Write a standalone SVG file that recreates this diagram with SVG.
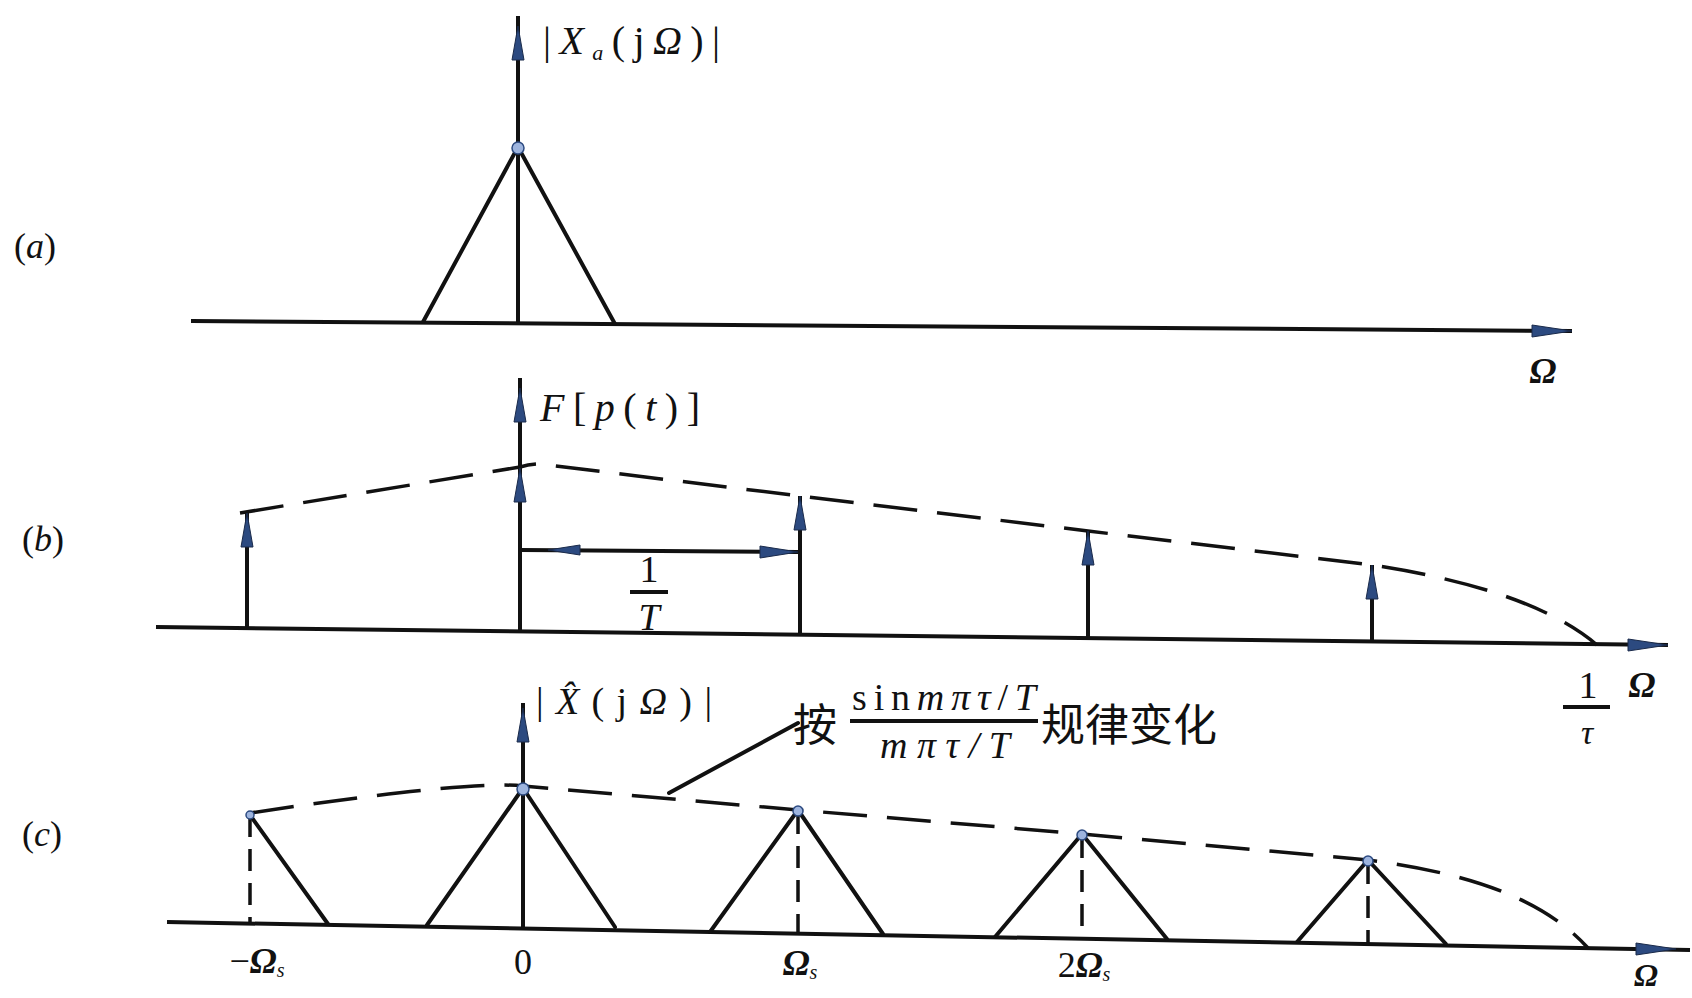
<svg xmlns="http://www.w3.org/2000/svg" width="1692" height="998" viewBox="0 0 1692 998">
<style>
.ln{stroke:#111;stroke-width:4;fill:none;stroke-linecap:round;stroke-linejoin:round}
.ax{stroke:#111;stroke-width:4;fill:none}
.dash{stroke:#111;stroke-width:3.5;fill:none;stroke-dasharray:44 20}
.vd{stroke:#111;stroke-width:3.5;fill:none;stroke-dasharray:22 12}
.ah{fill:#2c4a80;stroke:#1a2a4a;stroke-width:1}
.dot{fill:#9db4de;stroke:#2c4a80;stroke-width:1.5}
.t{font-family:"Liberation Serif","DejaVu Serif",serif;fill:#111}
.i{font-style:italic}
.cjk{font-family:"Noto Sans CJK SC","Noto Sans CJK JP",sans-serif;fill:#111}
</style>
<defs>
<path id="up" d="M0,0 L6,34 L-6,34 Z"/>
<path id="rt" d="M0,0 L-40,-6 L-40,6 Z"/>
</defs>
<rect width="1692" height="998" fill="#fff"/>

<g id="connectors">
  <line class="ax" x1="191" y1="321" x2="1572" y2="331"/>
  <line class="ax" x1="518" y1="16" x2="518" y2="324"/>
  <polyline class="ln" points="423,322 518,147 615,324"/>
  <line class="ax" x1="156" y1="627" x2="1668" y2="645"/>
  <line class="ax" x1="520" y1="378" x2="520" y2="631"/>
  <line class="ax" x1="247" y1="513" x2="247" y2="628"/>
  <line class="ax" x1="800" y1="496" x2="800" y2="635"/>
  <line class="ax" x1="1088" y1="531" x2="1088" y2="638"/>
  <line class="ax" x1="1372" y1="565" x2="1372" y2="641"/>
  <path class="dash" d="M240,513 L520,467 Q530,464 540,464 L800,496 L1088,531 L1372,565 C1470,580 1550,605 1597,645"/>
  <line class="ax" x1="522" y1="550" x2="798" y2="552"/>
  <line class="ax" x1="167" y1="922" x2="1690" y2="950"/>
  <line class="ax" x1="523" y1="703" x2="523" y2="928"/>
  <path class="dash" d="M250,813 Q470,780 523,786 L798,810 L1082,834 L1368,860 C1460,872 1540,895 1588,948"/>
  <line class="vd" x1="250" y1="815" x2="250" y2="923"/>
  <line class="ln" x1="250" y1="815" x2="328" y2="924"/>
  <polyline class="ln" points="427,925 523,788 615,927"/>
  <polyline class="ln" points="710,932 798,810 883,934"/>
  <line class="vd" x1="798" y1="812" x2="798" y2="933"/>
  <polyline class="ln" points="995,937 1082,834 1167,939"/>
  <line class="vd" x1="1082" y1="836" x2="1082" y2="938"/>
  <polyline class="ln" points="1297,942 1368,860 1446,944"/>
  <line class="vd" x1="1368" y1="862" x2="1368" y2="943"/>
  <line class="ln" x1="798" y1="723" x2="669" y2="793" stroke-width="3"/>
</g>

<g id="arrowheads">
  <use href="#up" class="ah" x="518" y="26"/>
  <use href="#rt" class="ah" x="1572" y="331"/>
  <use href="#up" class="ah" x="520" y="388"/>
  <use href="#up" class="ah" x="247" y="513"/>
  <use href="#up" class="ah" x="520" y="468"/>
  <use href="#up" class="ah" x="800" y="496"/>
  <use href="#up" class="ah" x="1088" y="531"/>
  <use href="#up" class="ah" x="1372" y="565"/>
  <use href="#rt" class="ah" x="1668" y="645"/>
  <path class="ah" d="M548,550 L580,545 L580,555 Z"/>
  <path class="ah" d="M798,552 L760,546 L760,558 Z"/>
  <use href="#up" class="ah" x="523" y="708"/>
  <use href="#rt" class="ah" x="1676" y="949"/>
  <circle class="dot" cx="518" cy="148" r="6"/>
  <circle class="dot" cx="523" cy="789" r="6"/>
  <circle class="dot" cx="798" cy="811" r="5"/>
  <circle class="dot" cx="1082" cy="835" r="5"/>
  <circle class="dot" cx="1368" cy="861" r="5"/>
  <circle class="dot" cx="250" cy="815" r="4"/>
</g>

<g id="label-a">
  <text class="t" x="14" y="258" font-size="36">(<tspan class="i">a</tspan>)</text>
</g>
<g id="label-b">
  <text class="t" x="22" y="551" font-size="36">(<tspan class="i">b</tspan>)</text>
</g>
<g id="label-c">
  <text class="t" x="22" y="846" font-size="36">(<tspan class="i">c</tspan>)</text>
</g>

<g id="title-a">
  <text class="t" x="543" y="54" font-size="40" textLength="177" lengthAdjust="spacing">|<tspan class="i">X</tspan><tspan class="i" font-size="22" dy="6">a</tspan><tspan dy="-6">(j</tspan><tspan class="i">Ω</tspan>)|</text>
</g>
<g id="omega-a">
  <text class="t i" x="1543" y="383" font-size="36" font-weight="bold" text-anchor="middle">Ω</text>
</g>

<g id="title-b">
  <text class="t" x="540" y="421" font-size="40" textLength="160" lengthAdjust="spacing"><tspan class="i">F</tspan>[<tspan class="i">p</tspan>(<tspan class="i">t</tspan>)]</text>
</g>
<g id="period-label">
  <text class="t" x="649" y="582" font-size="38" text-anchor="middle">1</text>
  <line class="ax" x1="630" y1="592" x2="668" y2="592" stroke-width="3"/>
  <text class="t i" x="649" y="630" font-size="38" text-anchor="middle">T</text>
</g>
<g id="tau-label">
  <text class="t" x="1588" y="698" font-size="38" text-anchor="middle">1</text>
  <line class="ax" x1="1563" y1="707" x2="1610" y2="707" stroke-width="3"/>
  <text class="t i" x="1587" y="744" font-size="34" text-anchor="middle">τ</text>
  <text class="t i" x="1642" y="697" font-size="36" font-weight="bold" text-anchor="middle">Ω</text>
</g>

<g id="title-c">
  <text class="t" x="536" y="714" font-size="38" textLength="176" lengthAdjust="spacing">|<tspan class="i">X̂</tspan>(j<tspan class="i">Ω</tspan>)|</text>
</g>
<g id="envelope-note">
  <text class="cjk" x="793" y="741" font-size="44">按</text>
  <text class="t" x="852" y="710" font-size="38" textLength="184" lengthAdjust="spacing">sin<tspan class="i">mπτ</tspan>/<tspan class="i">T</tspan></text>
  <line class="ax" x1="850" y1="721" x2="1038" y2="721" stroke-width="3"/>
  <text class="t i" x="880" y="758" font-size="38" textLength="130" lengthAdjust="spacing">mπτ/T</text>
  <text class="cjk" x="1041" y="741" font-size="44">规律变化</text>
</g>

<g id="ticks-c">
  <text class="t" x="257" y="973" font-size="36" text-anchor="middle">−<tspan class="i" font-weight="bold">Ω</tspan><tspan class="i" font-size="20" dy="4">s</tspan></text>
  <text class="t" x="523" y="974" font-size="36" text-anchor="middle">0</text>
  <text class="t" x="800" y="975" font-size="36" text-anchor="middle"><tspan class="i" font-weight="bold">Ω</tspan><tspan class="i" font-size="20" dy="4">s</tspan></text>
  <text class="t" x="1084" y="977" font-size="36" text-anchor="middle">2<tspan class="i" font-weight="bold">Ω</tspan><tspan class="i" font-size="20" dy="4">s</tspan></text>
  <text class="t i" x="1646" y="986" font-size="32" font-weight="bold" text-anchor="middle">Ω</text>
</g>
</svg>
